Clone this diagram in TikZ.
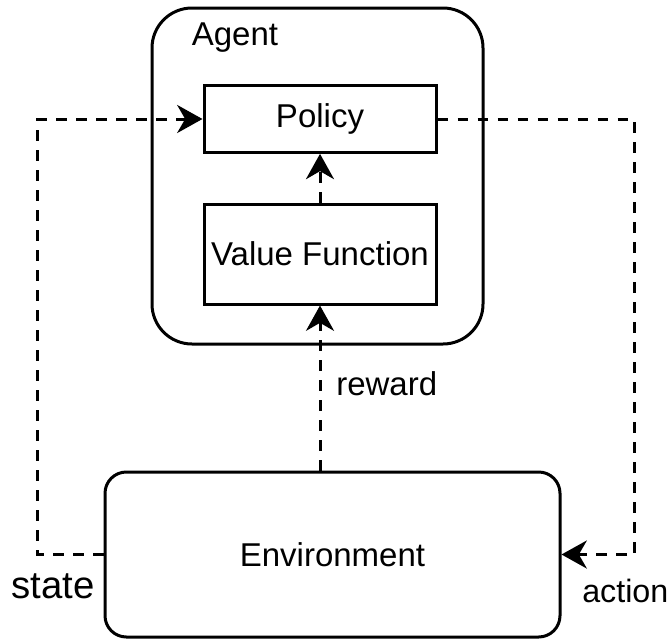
\documentclass[tikz,border=0pt]{standalone}
\usepackage{fontspec}
\setmainfont{Liberation Sans}
\usetikzlibrary{arrows.meta}

\begin{document}
\begin{tikzpicture}[x=0.75pt,y=-0.75pt]
\tikzstyle{every node}+=[inner sep=0pt, font=\fontsize{24.75}{29}\selectfont]
\tikzstyle{block}=[draw, line width=2.25pt, minimum width=174pt]
\tikzstyle{link}=[line width=2.25pt, dash pattern=on 8pt off 7pt, -{Stealth[length=19pt,width=21pt,inset=6pt]}]
\useasboundingbox (0,0) rectangle (671,639);
% agent with its two parts
\node [draw, line width=2.25pt, rounded corners=30pt, minimum width=248.25pt, minimum height=252pt] (agent) at (317.5,176) {};
\node [anchor=base] (agentlbl) at (235,45) {Agent};
\node [block, minimum height=50pt] (policy) at (320,119) {Policy};
\node [block, minimum height=75pt] (valuefn) at (320,254) {Value Function};
% environment
\node [draw, line width=2.25pt, rounded corners=16pt, minimum width=341.25pt, minimum height=123.75pt] (env) at (332.5,554.5) {Environment};
% loop
\draw [link] (valuefn.north) -- (policy.south);
\draw [link] (env.north -| valuefn.south) -- (valuefn.south);
\draw [link] (env.west) -- ++(-66,0) |- (policy.west);
\draw [link] (policy.east) -- ++(197,0) |- (env.east);
\node [anchor=base west] (rewardlbl) at (336,395) {reward};
\node [anchor=base west, font=\fontsize{28.75}{34}\selectfont] (statelbl) at (11,598) {state};
\node [anchor=base west, font=\fontsize{24.2}{29}\selectfont] (actionlbl) at (582,602) {action};
\end{tikzpicture}
\end{document}
